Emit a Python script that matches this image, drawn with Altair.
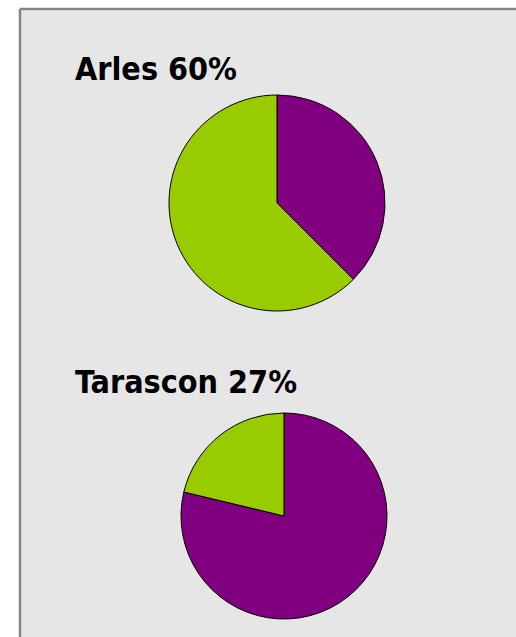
import altair as alt
import pandas as pd

cities = ["Arles", "Tarascon"]
titles = ["Arles 60%", "Tarascon 27%"]
series = ["série 1", "série 2"]
colors = ["#800080", "#99cc00"]
# slice values per city, in series order (clockwise from 12 o'clock)
arles_values = [60, 100]
tarascon_values = [100, 27]

rows = []
for city, vals in zip(cities, [arles_values, tarascon_values]):
    for i, (s, v) in enumerate(zip(series, vals)):
        rows.append({"city": city, "series": s, "value": v, "order": i})
df = pd.DataFrame(rows)
tdf = pd.DataFrame({"city": cities, "title": titles})

ysc = alt.Scale(domain=cities, range=[194, 507], padding=0)
xsc = alt.Scale(domain=cities, range=[257, 264], padding=0)

def pie(city, r):
    return alt.Chart(df).transform_filter(alt.datum.city == city).mark_arc(
        radius=r, stroke="black", strokeWidth=1
    ).encode(
        theta=alt.Theta("value:Q", stack=True),
        order=alt.Order("order:Q"),
        color=alt.Color("series:N", scale=alt.Scale(domain=series, range=colors), legend=None),
        x=alt.X("city:N", scale=xsc, axis=None),
        y=alt.Y("city:N", scale=ysc, axis=None),
    )

text = alt.Chart(tdf).mark_text(
    align="left", baseline="alphabetic", dy=-123,
    font="Liberation Sans Narrow, DejaVu Sans Condensed, sans-serif",
    fontWeight="bold", fontSize=32, color="black",
).encode(
    x=alt.value(55),
    y=alt.Y("city:N", scale=ysc, axis=None),
    text="title:N",
)

# frame edges (left and top only, as in the reference)
frame_data = alt.Data(values=[{}])
left_edge = alt.Chart(frame_data).mark_rule(color="#858585", strokeWidth=2.5).encode(
    x=alt.value(0), y=alt.value(0), y2=alt.value(628)
)
top_edge = alt.Chart(frame_data).mark_rule(color="#858585", strokeWidth=2.5).encode(
    y=alt.value(0), x=alt.value(0), x2=alt.value(496)
)

chart = alt.layer(
    pie("Arles", 108), pie("Tarascon", 103), text, left_edge, top_edge
).resolve_scale(
    theta="independent"
).properties(
    width=496, height=628,
    padding={"left": 20, "top": 9, "right": 0, "bottom": 0},
    autosize=alt.AutoSizeParams(type="none"),
    background="white",
).configure_view(
    fill="#e6e6e6", strokeWidth=0
)

chart.save("out.html", embed_options={"renderer": "svg", "actions": False})
